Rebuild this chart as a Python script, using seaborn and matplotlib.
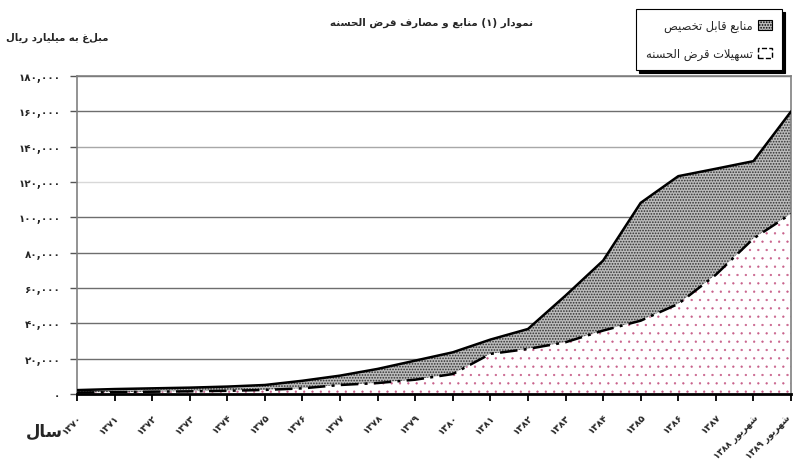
import matplotlib
matplotlib.use("Agg")
import matplotlib.pyplot as plt
import matplotlib.transforms as mtransforms
import seaborn as sns
import pandas as pd
from matplotlib.patches import Patch

# ---------------- data ----------------
categories = ['۱۳۷۰', '۱۳۷۱', '۱۳۷۲', '۱۳۷۳', '۱۳۷۴', '۱۳۷۵', '۱۳۷۶', '۱۳۷۷', '۱۳۷۸', '۱۳۷۹',
              '۱۳۸۰', '۱۳۸۱', '۱۳۸۲', '۱۳۸۳', '۱۳۸۴', '۱۳۸۵', '۱۳۸۶', '۱۳۸۷',
              'شهریور ۱۳۸۸', 'شهریور ۱۳۸۹']
resources = [2200, 2800, 3200, 3600, 4200, 5100, 7500, 10400, 14200, 18900,
             23600, 30800, 36800, 55700, 75500, 108200, 123300, 127500, 131800, 159900]
loans = [800, 1000, 1300, 1500, 1800, 2300, 3200, 5100, 6200, 8100,
         11300, 22700, 25500, 29300, 35900, 41500, 51000, 67500, 88000, 102000]
y_ticks = [0, 20000, 40000, 60000, 80000, 100000, 120000, 140000, 160000, 180000]
y_tick_labels = ['۰', '۲۰,۰۰۰', '۴۰,۰۰۰', '۶۰,۰۰۰', '۸۰,۰۰۰', '۱۰۰,۰۰۰',
                 '۱۲۰,۰۰۰', '۱۴۰,۰۰۰', '۱۶۰,۰۰۰', '۱۸۰,۰۰۰']
title = 'نمودار (۱) منابع و مصارف قرض الحسنه'
y_label = 'مبلغ به میلیارد ریال'
x_label = 'سال'
legend_labels = ['منابع قابل تخصیص', 'تسهیلات قرض الحسنه']

# ------------- minimal Arabic/Persian shaping (presentation forms) -------------
FORMS = {
    'ا': ('\uFE8D', '\uFE8E', None, None),
    'ب': ('\uFE8F', '\uFE90', '\uFE91', '\uFE92'),
    'ت': ('\uFE95', '\uFE96', '\uFE97', '\uFE98'),
    'ج': ('\uFE9D', '\uFE9E', '\uFE9F', '\uFEA0'),
    'ح': ('\uFEA1', '\uFEA2', '\uFEA3', '\uFEA4'),
    'خ': ('\uFEA5', '\uFEA6', '\uFEA7', '\uFEA8'),
    'د': ('\uFEA9', '\uFEAA', None, None),
    'ر': ('\uFEAD', '\uFEAE', None, None),
    'ز': ('\uFEAF', '\uFEB0', None, None),
    'س': ('\uFEB1', '\uFEB2', '\uFEB3', '\uFEB4'),
    'ش': ('\uFEB5', '\uFEB6', '\uFEB7', '\uFEB8'),
    'ص': ('\uFEB9', '\uFEBA', '\uFEBB', '\uFEBC'),
    'ض': ('\uFEBD', '\uFEBE', '\uFEBF', '\uFEC0'),
    'ع': ('\uFEC9', '\uFECA', '\uFECB', '\uFECC'),
    'ف': ('\uFED1', '\uFED2', '\uFED3', '\uFED4'),
    'ق': ('\uFED5', '\uFED6', '\uFED7', '\uFED8'),
    'ل': ('\uFEDD', '\uFEDE', '\uFEDF', '\uFEE0'),
    'م': ('\uFEE1', '\uFEE2', '\uFEE3', '\uFEE4'),
    'ن': ('\uFEE5', '\uFEE6', '\uFEE7', '\uFEE8'),
    'ه': ('\uFEE9', '\uFEEA', '\uFEEB', '\uFEEC'),
    'و': ('\uFEED', '\uFEEE', None, None),
    'ی': ('\uFBFC', '\uFBFD', '\uFBFE', '\uFBFF'),
}
DIGITS = set('۰۱۲۳۴۵۶۷۸۹0123456789,')
MIRROR = {'(': ')', ')': '('}


def _dual(c):
    return c in FORMS and FORMS[c][2] is not None


def shape(s):
    out = []
    i, n = 0, len(s)
    while i < n:
        c = s[i]
        if c in FORMS:
            prev = s[i - 1] if i > 0 else ''
            jp = _dual(prev)
            if c == 'ل' and i + 1 < n and s[i + 1] == 'ا':
                out.append('\uFEFC' if jp else '\uFEFB')
                i += 2
                continue
            nxt = s[i + 1] if i + 1 < n else ''
            jn = _dual(c) and nxt in FORMS
            f = FORMS[c]
            if jp and jn:
                g = f[3]
            elif jp:
                g = f[1]
            elif jn:
                g = f[2]
            else:
                g = f[0]
            out.append(g)
        else:
            out.append(c)
        i += 1
    shaped = ''.join(out)
    runs = []
    for ch in shaped:
        isd = ch in DIGITS
        if runs and runs[-1][0] == isd:
            runs[-1][1] += ch
        else:
            runs.append([isd, ch])
    if len(runs) == 1 and runs[0][0]:
        return shaped
    vis = []
    for isd, txt in reversed(runs):
        if isd:
            vis.append(txt)
        else:
            vis.append(''.join(MIRROR.get(ch, ch) for ch in reversed(txt)))
    return ''.join(vis)


# ---------------- plot ----------------
sns.set_style('white')
plt.rcParams['font.family'] = ['DejaVu Sans']

df = pd.DataFrame({'x': list(range(len(categories))), 'resources': resources, 'loans': loans})

fig = plt.figure(figsize=(7.95, 4.64), dpi=100)
ax = fig.add_axes([77 / 795, 69 / 464, 714 / 795, 318 / 464])

# gridlines
for v in y_ticks[1:]:
    col = '#d8d8d8' if v == 120000 else ('#a8a8a8' if v == 140000 else '#6e6e6e')
    ax.axhline(v, color=col, lw=1.0, zorder=0)

# areas
plt.rcParams['hatch.linewidth'] = 0.8
ax.fill_between(df['x'], df['loans'], df['resources'], facecolor='#bcbcbc',
                edgecolor='#303030', hatch='......', lw=0, zorder=1)
plt.rcParams['hatch.linewidth'] = 0.4
ax.fill_between(df['x'], 0, df['loans'], facecolor='white',
                edgecolor='#c8608a', hatch='..', lw=0, zorder=1)

sns.lineplot(data=df, x='x', y='resources', ax=ax, color='black', lw=1.8, zorder=3)
sns.lineplot(data=df, x='x', y='loans', ax=ax, color='black', lw=1.8,
             linestyle=(0, (7, 2.5, 1.2, 2.5)), zorder=3)

ax.set_xlim(0, len(categories) - 1)
ax.set_ylim(0, 180000)
ax.set_xticks(range(len(categories)))
ax.set_xticklabels([shape(c) for c in categories], rotation=45, ha='right', va='top',
                   rotation_mode='anchor', fontsize=6.8, fontweight='bold')
ax.set_yticks(y_ticks)
ax.set_yticklabels([shape(t) for t in y_tick_labels], fontsize=7.5, fontweight='bold')
ax.set_xlabel('')
ax.set_ylabel('')
ax.tick_params(axis='x', direction='out', length=5, width=1.3, color='black', pad=8,
               bottom=True)
ax.tick_params(axis='y', direction='out', length=5, width=1.0, color='#555555', pad=7,
               left=True)
xlabels = ax.get_xticklabels()
for lbl in xlabels[-2:]:
    lbl.set_fontsize(6.3)
xlabels[-1].set_transform(xlabels[-1].get_transform() +
                          mtransforms.ScaledTranslation(-5 / 100, 0, fig.dpi_scale_trans))

for s in ['left', 'right', 'top']:
    ax.spines[s].set_color('#808080')
    ax.spines[s].set_linewidth(1.2)
ax.spines['bottom'].set_color('black')
ax.spines['bottom'].set_linewidth(2.0)

# texts
fig.text(432 / 795, 1 - 23 / 464, shape(title), ha='center', va='center',
         fontsize=7.5, fontweight='bold')
fig.text(57 / 795, 1 - 38 / 464, shape(y_label), ha='center', va='center',
         fontsize=7.3, fontweight='bold')
fig.text(44 / 795, 1 - 432 / 464, shape(x_label), ha='center', va='center',
         fontsize=12, fontweight='bold')

# legend
plt.rcParams['hatch.linewidth'] = 0.8
handles = [Patch(facecolor='#bcbcbc', edgecolor='black', hatch='......', lw=0.8),
           Patch(facecolor='white', edgecolor='black', linestyle='--', lw=1.0)]
leg = ax.legend(handles, [shape(l) for l in legend_labels], markerfirst=False,
                loc='upper right', bbox_to_anchor=(782 / 795, 1 - 10 / 464),
                bbox_transform=fig.transFigure, frameon=True, fancybox=False,
                shadow={'color': 'black', 'alpha': 1.0}, fontsize=8.3,
                handlelength=1.2, handleheight=1.0, labelspacing=1.3,
                borderpad=0.85, handletextpad=0.5, borderaxespad=0)
leg.get_frame().set_edgecolor('black')
leg.get_frame().set_linewidth(0.8)

fig.savefig('out.png', dpi=100)
